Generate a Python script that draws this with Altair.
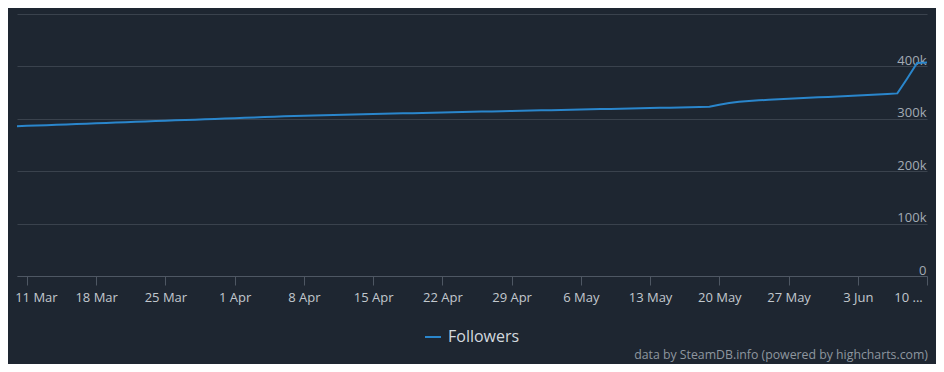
import altair as alt
import pandas as pd

# ---------------- data ----------------
START_DATE = "2024-03-10"
SERIES_NAME = "Followers"
# daily follower counts, in thousands, 10 Mar .. 10 Jun
FOLLOWERS_K = [
    286.0, 286.6, 287.2, 287.9, 288.6, 289.3, 290.0, 290.7, 291.4, 292.1,
    292.8, 293.5, 294.2, 294.9, 295.6, 296.3, 297.0, 297.7, 298.4, 299.1,
    299.8, 300.5,
    301.2, 301.9, 302.6, 303.3, 304.0, 304.7, 305.4, 306.0, 306.5, 306.9,
    307.4, 307.8, 308.2, 308.7, 309.1, 309.5, 310.0, 310.4, 310.8, 311.3,
    311.7, 312.1, 312.5, 312.9, 313.3, 313.7, 314.1, 314.5, 314.9, 315.3,
    315.7, 316.1, 316.5, 316.9, 317.3, 317.7, 318.1, 318.5, 318.9, 319.3,
    319.7, 320.1, 320.5, 320.9, 321.3, 321.7, 322.1, 322.5, 323.2, 327.0,
    330.0, 332.5, 334.0, 335.2, 336.3, 337.3, 338.2, 339.1, 340.0, 340.9,
    341.8,
    342.7, 343.6, 344.5, 345.4, 346.3, 347.2, 348.5, 377.0, 406.5, 407.5,
]
TICK_DATES = [
    "2024-03-11", "2024-03-18", "2024-03-25", "2024-04-01", "2024-04-08",
    "2024-04-15", "2024-04-22", "2024-04-29", "2024-05-06", "2024-05-13",
    "2024-05-20", "2024-05-27", "2024-06-03", "2024-06-10",
]
TICK_LABELS = [
    "11 Mar", "18 Mar", "25 Mar", "1 Apr", "8 Apr", "15 Apr", "22 Apr",
    "29 Apr", "6 May", "13 May", "20 May", "27 May", "3 Jun", "10 ...",
]
Y_TICKS = [0, 100000, 200000, 300000, 400000, 500000]
Y_LABELS = ["0", "100k", "200k", "300k", "400k", ""]
CREDITS = "data by SteamDB.info (powered by highcharts.com)"

# ---------------- styling ----------------
BG = "#1e2631"
GRID = "#3a424d"
AXIS = "#4e5763"
LINE = "#2a86cc"
FONT = "Open Sans"

dates = pd.date_range(START_DATE, periods=len(FOLLOWERS_K), freq="D")
df = pd.DataFrame({
    "date": dates.strftime("%Y-%m-%d"),
    "followers": [v * 1000 for v in FOLLOWERS_K],
    "series": SERIES_NAME,
})

def dt(s):
    y, m, d = (int(p) for p in s.split("-"))
    return alt.DateTime(year=y, month=m, date=d, utc=True)

key = "utcFormat(datum.value, '%Y-%m-%d')"
x_label_expr = "[{}][indexof([{}], {})]".format(
    ",".join("'%s'" % t for t in TICK_LABELS),
    ",".join("'%s'" % t for t in TICK_DATES),
    key,
)
y_label_expr = "[{}][indexof([{}], datum.value)]".format(
    ",".join("'%s'" % t for t in Y_LABELS),
    ",".join(str(v) for v in Y_TICKS),
)

x_axis = alt.Axis(
    title=None,
    values=[dt(s) for s in TICK_DATES],
    labelExpr=x_label_expr,
    grid=False,
    domain=True,
    domainColor=AXIS,
    domainWidth=1,
    ticks=True,
    tickColor=AXIS,
    tickSize=9,
    labelPadding=6,
    labelFlush=False,
    labelOverlap=False,
    labelFont=FONT,
    labelFontSize=13,
    labelColor="#c2c8ce",
    labelOffset={
        "condition": [
            {"test": "%s == '%s'" % (key, TICK_DATES[0]), "value": 9},
            {"test": "%s == '%s'" % (key, TICK_DATES[-1]), "value": -19},
        ],
        "value": 0,
    },
)

y_axis = alt.Axis(
    title=None,
    orient="right",
    values=Y_TICKS,
    labelExpr=y_label_expr,
    domain=False,
    ticks=False,
    grid=True,
    gridColor=GRID,
    gridWidth=1,
    labelAlign="right",
    labelBaseline="alphabetic",
    labelPadding=-1,
    labelOffset=-2,
    labelFont=FONT,
    labelFontSize=13,
    labelColor="#a3abb4",
)

chart = (
    alt.Chart(df)
    .mark_line(strokeWidth=2, interpolate="linear")
    .encode(
        x=alt.X("date:T", axis=x_axis, scale=alt.Scale(type="utc", nice=False)),
        y=alt.Y("followers:Q", axis=y_axis,
                scale=alt.Scale(domain=[0, 500000], nice=False, zero=True)),
        color=alt.Color(
            "series:N",
            scale=alt.Scale(domain=[SERIES_NAME], range=[LINE]),
            legend=alt.Legend(
                orient="none",
                legendX=407,
                legendY=314,
                title=None,
                direction="horizontal",
                symbolType="stroke",
                symbolSize=256,
                symbolStrokeWidth=2,
                labelFont=FONT,
                labelFontSize=16,
                labelColor="#d3d9df",
                labelOffset=6,
            ),
        ),
    )
    .properties(
        width=910,
        height=262,
        padding={"left": 9, "right": 9, "top": 6, "bottom": 88},
        autosize=alt.AutoSizeParams(type="none"),
        background=BG,
        title=alt.TitleParams(
            CREDITS,
            orient="bottom",
            anchor="end",
            font=FONT,
            fontSize=12.3,
            fontWeight="normal",
            color="#8e969f",
            offset=4,
            dx=-3,
        ),
    )
    .configure_view(stroke=None)
)

chart.save("out.html", embed_options={"renderer": "svg", "actions": False})
